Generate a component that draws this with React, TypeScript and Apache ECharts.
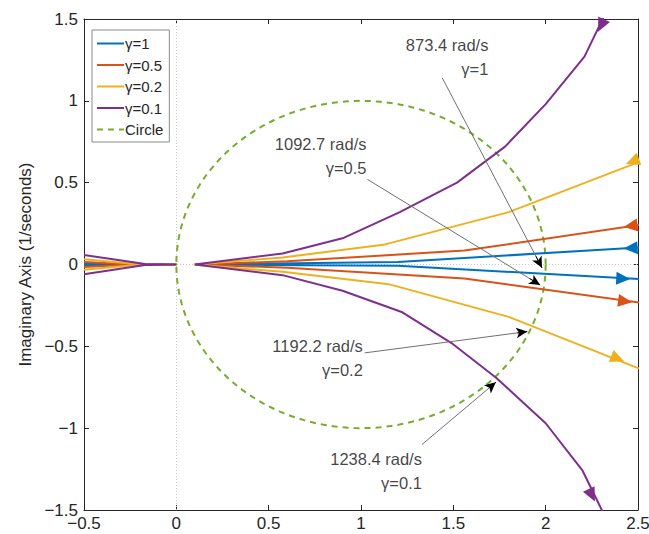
import React, { useEffect, useRef } from "react";
import * as echarts from "echarts";

// ---------- data ----------
const X_TICK_LABELS = ["−0.5", "0", "0.5", "1", "1.5", "2", "2.5"];
const Y_TICK_LABELS = ["−1.5", "−1", "−0.5", "0", "0.5", "1", "1.5"];
const X_MIN = -0.5;
const X_MAX = 2.5;
const Y_MIN = -1.5;
const Y_MAX = 1.5;
const TICK_STEP = 0.5;

const NAMES = ["γ=1", "γ=0.5", "γ=0.2", "γ=0.1"];
const COLORS = ["#0072BD", "#D95319", "#EDB120", "#7E2F8E"];

// left-hand (x < 0) parts, from top-left through the origin to bottom-left
const G1_LEFT = [[-0.5, 0.006], [-0.3, 0.001], [0, 0], [-0.3, -0.001], [-0.5, -0.006]];
const G05_LEFT = [[-0.5, 0.016], [-0.25, 0.002], [0, 0], [-0.25, -0.002], [-0.5, -0.016]];
const G02_LEFT = [[-0.5, 0.032], [-0.22, 0.003], [0, 0], [-0.22, -0.003], [-0.5, -0.032]];
const G01_LEFT = [[-0.5, 0.058], [-0.17, 0.003], [0, 0], [-0.17, -0.003], [-0.5, -0.06]];

// right-hand branches, listed from the start point near the origin outward
const G1_UPPER = [[0.1, 0], [1.2, 0.015], [2.56, 0.108]];
const G1_LOWER = [[0.1, 0], [1.2, -0.008], [2.56, -0.092]];
const G05_UPPER = [[0.1, 0], [0.6, 0.02], [1.56, 0.085], [2.56, 0.25]];
const G05_LOWER = [[0.1, 0], [0.6, -0.02], [1.56, -0.085], [2.56, -0.24]];
const G02_UPPER = [[0.1, 0], [0.575, 0.043], [1.12, 0.12], [1.8, 0.32], [2.56, 0.65]];
const G02_LOWER = [[0.1, 0], [0.575, -0.045], [1.15, -0.12], [1.8, -0.32], [2.56, -0.66]];
const G01_UPPER = [[0.1, 0], [0.575, 0.067], [0.9, 0.16], [1.21, 0.32], [1.52, 0.5], [1.78, 0.72], [2.0, 0.98], [2.21, 1.27], [2.36, 1.62]];
const G01_LOWER = [[0.1, 0], [0.575, -0.065], [0.9, -0.16], [1.22, -0.29], [1.49, -0.48], [1.73, -0.69], [2.0, -0.97], [2.2, -1.26], [2.33, -1.56]];

const LEFTS = [G1_LEFT, G05_LEFT, G02_LEFT, G01_LEFT];
const UPPERS = [G1_UPPER, G05_UPPER, G02_UPPER, G01_UPPER];
const LOWERS = [G1_LOWER, G05_LOWER, G02_LOWER, G01_LOWER];

// arrow marks: [x, y] on upper branch (pointing inward) and lower branch (pointing outward)
const ARROWS_UPPER = [[2.46, 0.1], [2.46, 0.235], [2.47, 0.63], [2.3, 1.46]];
const ARROWS_LOWER = [[2.42, -0.086], [2.43, -0.225], [2.39, -0.575], [2.25, -1.41]];

// reference circle
const CIRCLE_CENTER = [1, 0];
const CIRCLE_RADIUS = 1;
const CIRCLE_STEPS = 180;

// annotations: text anchor (right edge, middle), arrow start, arrow end
const ANNOT_TEXT = ["873.4 rad/s\nγ=1", "1092.7 rad/s\nγ=0.5", "1192.2 rad/s\nγ=0.2", "1238.4 rad/s\nγ=0.1"];
const ANNOT_ANCHOR = [[1.69, 1.27], [1.03, 0.66], [1.01, -0.57], [1.33, -1.26]];
const ANNOT_FROM = [[1.44, 1.14], [1.035, 0.52], [1.02, -0.54], [1.33, -1.1]];
const ANNOT_TO = [[1.98, -0.02], [1.97, -0.125], [1.9, -0.41], [1.73, -0.72]];

const FONT = "'Liberation Sans', Arial, Helvetica, sans-serif";
const TEXT_COLOR = "#262626";

function circlePoints() {
  const pts: number[][] = [];
  for (let i = 0; i <= CIRCLE_STEPS; i++) {
    const t = (i / CIRCLE_STEPS) * Math.PI * 2;
    pts.push([CIRCLE_CENTER[0] + CIRCLE_RADIUS * Math.cos(t), CIRCLE_CENTER[1] + CIRCLE_RADIUS * Math.sin(t)]);
  }
  return pts;
}

function tickLabel(labels: string[], min: number) {
  return (v: number) => {
    const idx = Math.round((v - min) / TICK_STEP);
    return labels[idx] ?? "";
  };
}

function segmentFor(branch: number[][], x: number) {
  for (let i = 0; i < branch.length - 1; i++) {
    if (x >= branch[i][0] && x <= branch[i + 1][0]) return [branch[i], branch[i + 1]];
  }
  return [branch[branch.length - 2], branch[branch.length - 1]];
}

export default function App() {
  const ref = useRef<HTMLDivElement>(null);

  useEffect(() => {
    if (!ref.current) return;
    const chart = echarts.init(ref.current, undefined, { renderer: "svg" });

    const curveSeries: any[] = [];
    NAMES.forEach((name, i) => {
      const style = { color: COLORS[i], width: 2 };
      curveSeries.push({
        name,
        type: "line",
        data: LEFTS[i],
        symbol: "none",
        lineStyle: style,
        itemStyle: { color: COLORS[i] },
        z: 3,
      });
      curveSeries.push({
        name,
        type: "line",
        data: [...UPPERS[i].slice().reverse(), ...LOWERS[i].slice(1)],
        symbol: "none",
        lineStyle: style,
        itemStyle: { color: COLORS[i] },
        z: 3,
      });
    });

    // short black tips at the end of each annotation arrow
    const tipFrom = ANNOT_FROM.map((f, i) => {
      const t = ANNOT_TO[i];
      return [t[0] - (t[0] - f[0]) * 0.06, t[1] - (t[1] - f[1]) * 0.06];
    });

    const baseOption: any = {
      animation: false,
      backgroundColor: "#fff",
      textStyle: { fontFamily: FONT },
      grid: { left: 84, right: 11, top: 19, bottom: 24, outerBoundsMode: "none", containLabel: false },
      xAxis: [
        {
          type: "value",
          min: X_MIN,
          max: X_MAX,
          interval: TICK_STEP,
          axisLine: { show: true, onZero: false, lineStyle: { color: TEXT_COLOR, width: 1 } },
          axisTick: { show: true, inside: true, length: 5, lineStyle: { color: TEXT_COLOR } },
          axisLabel: { formatter: tickLabel(X_TICK_LABELS, X_MIN), color: TEXT_COLOR, fontSize: 17, margin: 5, fontFamily: FONT },
          splitLine: { show: false },
        },
        {
          type: "value",
          position: "top",
          min: X_MIN,
          max: X_MAX,
          interval: TICK_STEP,
          axisLine: { show: true, onZero: false, lineStyle: { color: TEXT_COLOR, width: 1 } },
          axisTick: { show: true, inside: true, length: 5, lineStyle: { color: TEXT_COLOR } },
          axisLabel: { show: false },
          splitLine: { show: false },
        },
      ],
      yAxis: [
        {
          type: "value",
          min: Y_MIN,
          max: Y_MAX,
          interval: TICK_STEP,
          name: "Imaginary Axis (1/seconds)",
          nameLocation: "middle",
          nameGap: 46,
          nameTextStyle: { color: TEXT_COLOR, fontSize: 17, fontFamily: FONT },
          axisLine: { show: true, onZero: false, lineStyle: { color: TEXT_COLOR, width: 1 } },
          axisTick: { show: true, inside: true, length: 5, lineStyle: { color: TEXT_COLOR } },
          axisLabel: { formatter: tickLabel(Y_TICK_LABELS, Y_MIN), color: TEXT_COLOR, fontSize: 17, margin: 6, fontFamily: FONT },
          splitLine: { show: false },
        },
        {
          type: "value",
          position: "right",
          min: Y_MIN,
          max: Y_MAX,
          interval: TICK_STEP,
          axisLine: { show: true, onZero: false, lineStyle: { color: TEXT_COLOR, width: 1 } },
          axisTick: { show: true, inside: true, length: 5, lineStyle: { color: TEXT_COLOR } },
          axisLabel: { show: false },
          splitLine: { show: false },
        },
      ],
      legend: {
        data: [...NAMES, "Circle"],
        orient: "vertical",
        left: 92,
        top: 30,
        itemWidth: 27,
        itemHeight: 14,
        itemGap: 6.5,
        padding: [6, 6, 5, 4],
        backgroundColor: "#fff",
        borderColor: "#8a8a8a",
        borderWidth: 1,
        borderRadius: 0,
        itemStyle: { opacity: 0, borderWidth: 0 },
        textStyle: { color: TEXT_COLOR, fontSize: 15, fontFamily: FONT, padding: [0, 0, 0, -4] },
        z: 20,
      },
      series: [
        {
          name: "Circle",
          type: "line",
          data: circlePoints(),
          symbol: "none",
          smooth: false,
          lineStyle: { color: "#77AC30", width: 2, type: [6, 5] },
          itemStyle: { color: "#77AC30" },
          z: 2,
          markLine: {
            silent: true,
            symbol: ["none", "none"],
            label: { show: false },
            lineStyle: { color: "#c8c8c8", type: [1, 2], width: 1 },
            data: [{ xAxis: 0 }, { yAxis: 0 }],
            z: 1,
          },
        },
        ...curveSeries,
        {
          name: "annotations",
          type: "scatter",
          symbolSize: 0,
          silent: true,
          z: 10,
          data: ANNOT_TEXT.map((t, i) => ({
            value: ANNOT_ANCHOR[i],
            label: {
              show: true,
              formatter: t,
              position: [0, 0],
              align: "right",
              verticalAlign: "middle",
              fontSize: 16.5,
              lineHeight: 24,
              color: "#111",
              fontFamily: FONT,
            },
          })),
          markLine: {
            silent: true,
            symbol: ["none", "none"],
            label: { show: false },
            lineStyle: { color: "#707070", type: "solid", width: 1 },
            data: ANNOT_FROM.map((f, i) => [{ coord: f }, { coord: ANNOT_TO[i] }]),
          },
        },
        {
          name: "annotation tips",
          type: "scatter",
          symbolSize: 0,
          silent: true,
          z: 11,
          data: ANNOT_TO,
          markLine: {
            silent: true,
            symbol: ["none", "arrow"],
            symbolSize: [8, 11],
            label: { show: false },
            lineStyle: { color: "#000", type: "solid", width: 1 },
            data: tipFrom.map((f, i) => [{ coord: f }, { coord: ANNOT_TO[i] }]),
          },
        },
      ],
    };

    chart.setOption(baseOption);

    // arrowheads oriented along each branch in screen space
    const toPx = (p: number[]) => chart.convertToPixel({ xAxisIndex: 0, yAxisIndex: 0 }, p) as number[];
    const angleFor = (branch: number[][], x: number, inward: boolean) => {
      const [a, b] = segmentFor(branch, x);
      const pa = toPx(a);
      const pb = toPx(b);
      let dx = pb[0] - pa[0];
      let dy = pb[1] - pa[1];
      if (inward) {
        dx = -dx;
        dy = -dy;
      }
      const ang = (Math.atan2(-dy, dx) * 180) / Math.PI;
      return ang - 90;
    };

    const arrowSeries = NAMES.map((name, i) => ({
      name: name + " arrows",
      type: "scatter",
      symbol: "triangle",
      symbolSize: [13, 14],
      silent: true,
      z: 4,
      itemStyle: { color: COLORS[i], opacity: 1 },
      data: [
        { value: ARROWS_UPPER[i], symbolRotate: angleFor(UPPERS[i], ARROWS_UPPER[i][0], true) },
        { value: ARROWS_LOWER[i], symbolRotate: angleFor(LOWERS[i], ARROWS_LOWER[i][0], false) },
      ],
    }));

    chart.setOption({ series: [...baseOption.series, ...arrowSeries] });

    return () => chart.dispose();
  }, []);

  return (
    <div
      ref={ref}
      style={{ position: "fixed", left: 0, top: 0, width: 649, height: 534, background: "#fff" }}
    />
  );
}
